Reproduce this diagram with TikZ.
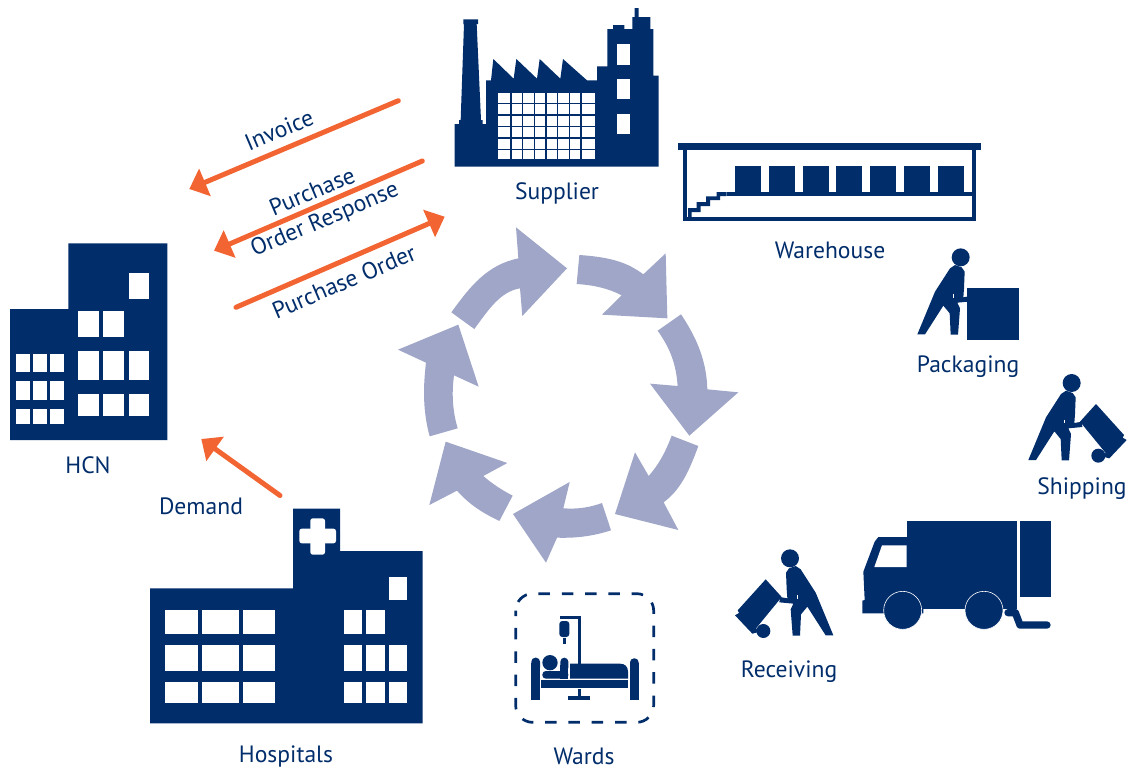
\documentclass[tikz,border=0pt]{standalone}
\usepackage{fontspec}
\setmainfont{PT Sans}
\usetikzlibrary{arrows.meta}
\definecolor{navy}{HTML}{012D6B}
\definecolor{flow}{HTML}{F26532}
\definecolor{cyc}{HTML}{9FA6C7}
\tikzset{
  icon/.style={fill=navy,draw=none},
  pane/.style={fill=white,draw=none},
  cyclearrow/.style={fill=cyc,draw=none},
  lbl/.style={text=navy,inner sep=0pt,font=\fontsize{23.6}{27}\selectfont},
  flowarrow/.style={draw=flow,line width=5pt,line cap=round,-{Triangle[length=17pt,width=29pt]}},
  zoomed/.style={scale=0.33333},
}
\newcommand{\personcart}{%
  \fill[icon] (182,52) circle (27);
  \fill[icon] (52,283) -- (105,155) -- (150,85) -- (165,75) -- (185,82) -- (194,95) -- (192,145) -- (190,172) -- (212,168) -- (214,184) -- (172,188) -- (180,205) -- (174,284) -- (152,284) -- (149,220) -- (130,197) -- (75,283) -- cycle;
  \fill[pane] (158,162) rectangle (161,173);
}
\newcommand{\cartbody}{%
  \fill[icon] (339,208) -- (255,115) -- (207,168) -- (284,262) -- (272,272) -- (295,278) -- (347,223) -- (335,216) -- cycle;
  \fill[icon] (262,270) circle (21);
}
\begin{document}
\begin{tikzpicture}[x=1pt,y=-1pt]
\useasboundingbox (0,0) rectangle (1131,771);

% ---------- cycle ----------
\begin{scope}[shift={(390,220)},zoomed]
\fill[cyclearrow] (184,277) .. controls (240,200) and (290,135) .. (385,115) -- (378,22) -- (531,145) -- (397,288) -- (390,205) .. controls (330,215) and (295,270) .. (253,327) -- cycle;
\fill[cyclearrow] (568,105) .. controls (670,112) and (715,130) .. (760,163) -- (827,100) -- (832,295) -- (636,284) -- (695,226) .. controls (655,205) and (610,195) .. (560,192) -- cycle;
\fill[cyclearrow] (873,283) .. controls (925,360) and (950,430) .. (952,508) -- (1045,517) -- (898,647) -- (780,491) -- (863,498) .. controls (858,430) and (840,385) .. (803,332) -- cycle;
\fill[cyclearrow] (925,678) .. controls (895,760) and (870,810) .. (821,847) -- (865,930) -- (675,882) -- (735,697) -- (776,768) .. controls (805,735) and (825,700) .. (845,647) -- cycle;
\fill[cyclearrow] (663,931) .. controls (610,948) and (560,955) .. (501,953) -- (468,1028) -- (369,882) -- (539,786) -- (520,865) .. controls (565,868) and (600,862) .. (636,849) -- cycle;
\fill[cyclearrow] (328,903) .. controls (270,875) and (235,850) .. (201,812) -- (118,855) -- (167,665) -- (352,729) -- (280,768) .. controls (305,790) and (335,810) .. (368,827) -- cycle;
\fill[cyclearrow] (119,649) .. controls (100,580) and (98,510) .. (108,428) -- (24,389) -- (205,314) -- (266,500) -- (192,466) .. controls (185,520) and (187,570) .. (203,625) -- cycle;
\end{scope}

% ---------- supplier ----------
\begin{scope}[shift={(440,0)},zoomed]
\fill[icon] (44,500) -- (44,372) -- (57,372) -- (57,360) -- (62,360) -- (72,72) -- (70,72) -- (70,58) -- (114,58) -- (114,72) -- (110,72) -- (123,360) -- (128,360) -- (128,372) -- (138,372) -- (138,241) -- (153,241) -- (160,177) -- (221,236) -- (229,177) -- (291,236) -- (299,177) -- (361,236) -- (369,177) -- (441,241) -- (471,241) -- (471,199) -- (502,199) -- (502,87) -- (519,87) -- (519,75) -- (553,75) -- (553,87) -- (577,87) -- (577,51) -- (584,51) -- (584,24) -- (596,24) -- (596,51) -- (631,51) -- (631,87) -- (640,87) -- (640,227) -- (656,227) -- (656,500) -- cycle;
\foreach \xa/\xb in {173/211,215/246,250/281,285/316,320/351,355/386,390/421,425/464}
  \foreach \ya/\yb in {280/308,313/342,347/377,382/412,417/446,451/478}
    \fill[pane] (\xa,\ya) rectangle (\xb,\yb);
\foreach \ya/\yb in {132/194,237/298,341/403}
  \fill[pane] (532,\ya) rectangle (569,\yb);
\end{scope}

% ---------- warehouse ----------
\begin{scope}[shift={(670,130)},zoomed]
\fill[icon] (24,39) rectangle (932,60);
\fill[icon] (38,60) rectangle (918,274);
\fill[pane] (50,60) rectangle (906,262);
\foreach \xa/\xb in {195/273,297/375,399/477,498/576,600/678,702/780,804/882}
  \fill[icon] (\xa,108) rectangle (\xb,186);
\fill[icon] (170,186) rectangle (906,198);
\fill[icon] (54,262) -- (54,234) -- (80,234) -- (80,216) -- (108,216) -- (108,199) -- (140,199) -- (140,186) -- (170,186) -- (170,198) -- (150,198) -- (150,210) -- (120,210) -- (120,228) -- (92,228) -- (92,246) -- (65,246) -- (65,262) -- cycle;
\end{scope}

% ---------- packaging ----------
\begin{scope}[shift={(900,240)},zoomed]
\personcart
\fill[icon] (201,144) rectangle (357,300);
\end{scope}

% ---------- shipping ----------
\begin{scope}[shift={(1011,365.67)},zoomed]
\personcart
\cartbody
\end{scope}

% ---------- receiving ----------
\begin{scope}[shift={(850.67,541)},xscale=-0.33333,yscale=0.33333]
\personcart
\cartbody
\end{scope}

% ---------- truck ----------
\begin{scope}[shift={(730,510)},zoomed]
\fill[icon] (530,34) rectangle (862,296);
\fill[icon] (397,310) -- (397,272) -- (404,270) -- (400,185) -- (434,95) -- (445,81) -- (535,81) -- (535,296) -- (580,296) -- (580,310) -- cycle;
\fill[pane] (456,106) -- (530,106) -- (530,171) -- (433,171) -- cycle;
\fill[icon,draw=white,line width=0.6pt] (518,301) circle (57);
\fill[icon,draw=white,line width=0.6pt] (762,301) circle (57);
\fill[icon] (870,33) rectangle (963,261);
\draw[navy,line width=7.3pt,line cap=round,line join=round] (834,308) -- (856,308) -- (870,345) -- (951,345);
\end{scope}

% ---------- wards ----------
\begin{scope}[shift={(505,585)},zoomed]
\draw[navy,line width=2.7pt,rounded corners=17pt,dash pattern=on 11.5pt off 11.8pt,dash phase=6pt] (32,26) rectangle (446,412);
\fill[icon] (165,92) rectangle (228,102);
\fill[icon] (218,92) rectangle (228,236);
\fill[icon,rounded corners=3pt] (163,108) rectangle (193,156);
\fill[icon] (174,160) rectangle (183,177);
\fill[icon,rounded corners=4pt] (79,218) rectangle (105,260);
\fill[icon] (79,235) rectangle (105,344);
\fill[icon,rounded corners=4pt] (375,220) rectangle (401,260);
\fill[icon] (375,235) rectangle (401,344);
\fill[icon] (108,285) rectangle (369,308);
\fill[icon] (135,233) circle (23);
\fill[icon,rounded corners=4pt] (166,218) rectangle (190,260);
\fill[icon,rounded corners=3.5pt] (112,258) rectangle (190,281);
\fill[icon] (166,240) rectangle (190,281);
\fill[icon] (195,281) -- (195,236) -- (345,236) .. controls (360,236) and (369,245) .. (369,260) -- (369,281) -- cycle;
\fill[icon] (219,312) rectangle (228,332);
\fill[icon] (189,332) rectangle (255,344);
\end{scope}

% ---------- hospitals ----------
\begin{scope}[shift={(140,500)},zoomed]
\fill[icon] (30,670) -- (30,265) -- (459,265) -- (459,26) -- (600,26) -- (600,153) -- (848,153) -- (848,670) -- cycle;
\fill[pane,rounded corners=2.5pt] (478,86) rectangle (588,130);
\fill[pane,rounded corners=2.5pt] (511,55) rectangle (555,164);
\foreach \xa/\xb in {76/174,186/298,309/405}
  \foreach \ya/\yb in {331/401,436/512,547/608}
    \fill[pane] (\xa,\ya) rectangle (\xb,\yb);
\foreach \xa/\xb in {613/667,679/735}
  \foreach \ya/\yb in {331/401,436/512,547/608}
    \fill[pane] (\xa,\ya) rectangle (\xb,\yb);
\foreach \ya/\yb in {231/301,436/512,547/608}
  \fill[pane] (747,\ya) rectangle (800,\yb);
\end{scope}

% ---------- HCN ----------
\begin{scope}[shift={(0,235)},zoomed]
\fill[icon] (30,615) -- (30,222) -- (205,222) -- (205,25) -- (502,25) -- (502,615) -- cycle;
\foreach \xa/\xb in {49/91,100/142,151/191}
  \foreach \ya/\yb in {358/411,438/496,523/568}
    \fill[pane] (\xa,\ya) rectangle (\xb,\yb);
\foreach \xa/\xb in {235/296,310/373}
  \foreach \ya/\yb in {228/307,349/434,476/544}
    \fill[pane] (\xa,\ya) rectangle (\xb,\yb);
\foreach \ya/\yb in {114/193,349/434,476/544}
  \fill[pane] (387,\ya) rectangle (447,\yb);
\end{scope}

% ---------- labels ----------
\node[lbl] (supplier) at (557,193.5) {Supplier};
\node[lbl] (warehouse) at (830,250) {Warehouse};
\node[lbl] (packaging) at (968,366.5) {Packaging};
\node[lbl] (shipping) at (1082,488.5) {Shipping};
\node[lbl] (receiving) at (789,671.5) {Receiving};
\node[lbl] (wards) at (584,756) {Wards};
\node[lbl] (hospitals) at (286,756.5) {Hospitals};
\node[lbl] (hcn) at (88,465) {HCN};
\node[lbl] (demand) at (201,506) {Demand};
\node[lbl,rotate=23] (invoice) at (279,130) {Invoice};
\node[lbl,rotate=23] (purchase) at (312,191.5) {Purchase};
\node[lbl,rotate=23] (orderresponse) at (325,220.5) {Order Response};
\node[lbl,rotate=23] (purchaseorder) at (344,281.5) {Purchase Order};

% ---------- flows ----------
\coordinate (invoiceA) at (398.3,100.7);
\coordinate (invoiceB) at (189.3,189);
\coordinate (responseA) at (422.3,161);
\coordinate (responseB) at (214,250.7);
\coordinate (orderA) at (236,307.3);
\coordinate (orderB) at (444.7,216.7);
\coordinate (demandA) at (280,495.5);
\coordinate (demandB) at (201.3,439);
\draw[flowarrow] (invoiceA) -- (invoiceB);
\draw[flowarrow] (responseA) -- (responseB);
\draw[flowarrow] (orderA) -- (orderB);
\draw[flowarrow] (demandA) -- (demandB);
\end{tikzpicture}
\end{document}
